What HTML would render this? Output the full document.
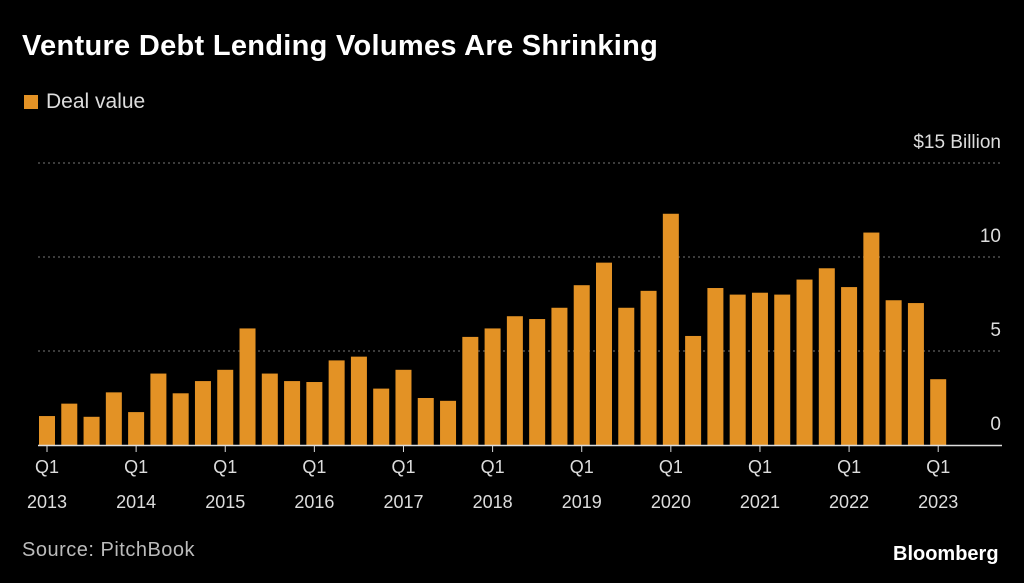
<!DOCTYPE html>
<html><head><meta charset="utf-8"><style>
body{margin:0;background:#000;width:1024px;height:583px;overflow:hidden;font-family:"Liberation Sans",sans-serif;color:#fff}
.t{position:absolute}
</style></head><body>
<div class="t" style="left:22px;top:30px;font-size:29px;font-weight:bold;letter-spacing:0.3px">Venture Debt Lending Volumes Are Shrinking</div>
<div class="t" style="left:24px;top:90px;font-size:21px;color:#ddd"><span style="display:inline-block;width:14px;height:14px;background:#e39225;margin-right:8px;vertical-align:-1px"></span>Deal value</div>
<div class="t" style="left:22px;top:539px;font-size:20px;color:#bbb;letter-spacing:0.5px">Source: PitchBook</div>
<div class="t" style="left:893px;top:543px;font-size:20px;font-weight:bold">Bloomberg</div>
<svg id="c" width="1024" height="583" style="position:absolute;left:0;top:0"></svg>
<script>
const years=["2013","2014","2015","2016","2017","2018","2019","2020","2021","2022","2023"];
const values=[1.54,2.2,1.5,2.8,1.75,3.8,2.75,3.4,4.0,6.2,3.8,3.4,3.35,4.5,4.7,3.0,4.0,2.5,2.35,5.75,6.2,6.85,6.7,7.3,8.5,9.7,7.3,8.2,12.3,5.8,8.35,8.0,8.1,8.0,8.8,9.4,8.4,11.3,7.7,7.55,3.5];
const yTicks=[0,5,10,15];
const yTickLabels=["0","5","10","$15 Billion"];
const svg=document.getElementById('c');const NS="http://www.w3.org/2000/svg";
const y=v=>445-v*18.8;const x=i=>47+i*22.28;
function mk(t,a){const e=document.createElementNS(NS,t);for(const k in a)e.setAttribute(k,a[k]);svg.appendChild(e);return e;}
yTicks.forEach((v,i)=>{
 if(v>0){const l=mk('line',{x1:38,x2:1002,y1:y(v),y2:y(v),stroke:'#777','stroke-dasharray':'2,3'});
 
 }
 const t=mk('text',{x:1001,y:y(v)-15,'text-anchor':'end',fill:'#ddd','font-size':19,'font-family':'Liberation Sans'});t.textContent=yTickLabels[i];
 
 
});
values.forEach((v,i)=>{
 const r=mk('rect',{x:x(i)-8,y:y(v),width:16,height:445-y(v),fill:'#e39225'});
 
 
});
const ax=mk('line',{x1:38,x2:1002,y1:445.5,y2:445.5,stroke:'#ddd','stroke-width':1.5});


years.forEach((yr,k)=>{
 const cx=x(k*4);
 mk('line',{x1:cx,x2:cx,y1:446,y2:452,stroke:'#ddd'});
 const t1=mk('text',{x:cx,y:473,'text-anchor':'middle',fill:'#ddd','font-size':18,'font-family':'Liberation Sans'});t1.textContent="Q1";
 
 
 const t2=mk('text',{x:cx,y:508,'text-anchor':'middle',fill:'#ddd','font-size':18,'font-family':'Liberation Sans'});t2.textContent=yr;
 
 
});
</script>
</body></html>
